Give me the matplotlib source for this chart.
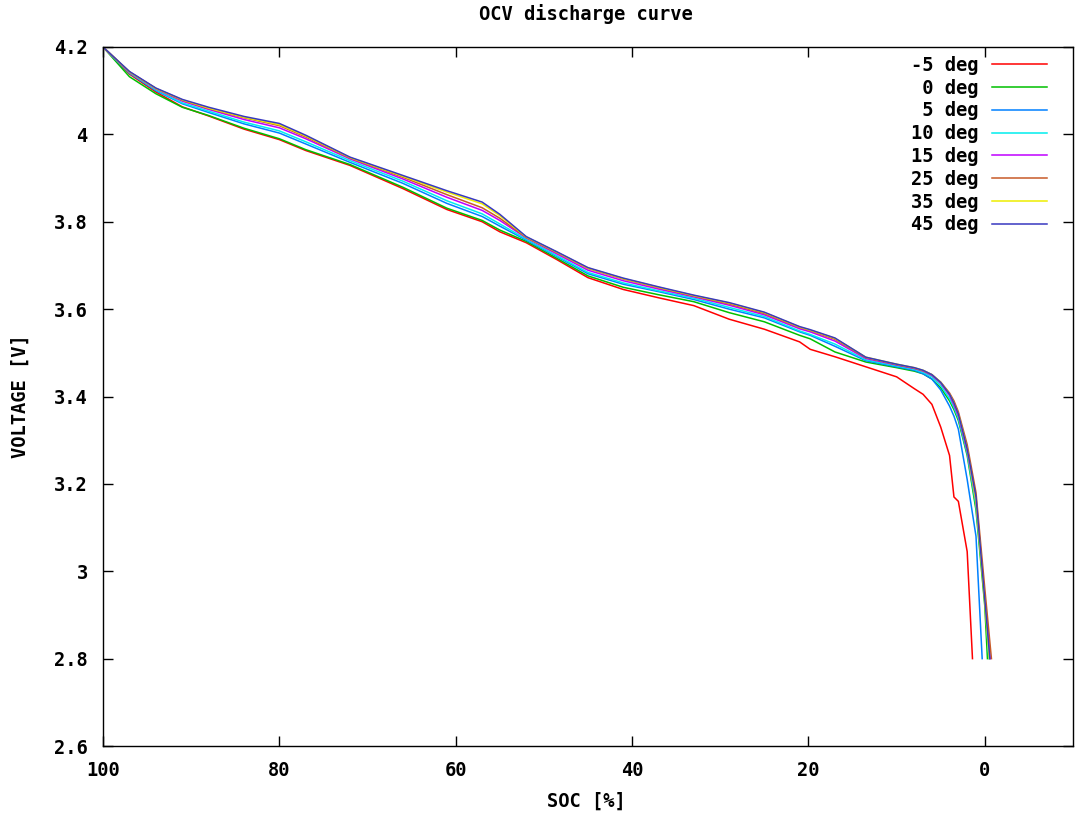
import numpy as np
import matplotlib
matplotlib.use("Agg")
import matplotlib.pyplot as plt

# -------------------------------
# Data
# -------------------------------
soc = [100, 97, 94, 91, 88, 84, 80, 77, 72, 66, 61, 57, 55, 52, 48.5, 45, 41, 37,
       33, 29, 25, 21, 19.8, 17, 13.5, 10, 8, 7, 6, 5, 4, 3.5, 3, 2, 1, 0]

labels = ["-5 deg", " 0 deg", " 5 deg", "10 deg", "15 deg", "25 deg", "35 deg", "45 deg"]
colors = ["#ff0000", "#00c000", "#0080ff", "#00eeee", "#c000ff", "#c85a28", "#eeee00", "#3838c0"]
end_soc = [1.4, -0.3, 0.3, -0.45, -0.6, -0.75, -0.5, -0.57]   # where each curve hits 2.8 V

nan = np.nan
v_m5 = [4.200, 4.138, 4.097, 4.063, 4.042, 4.012, 3.988, 3.963, 3.929, 3.876, 3.828, 3.800,
        3.777, 3.752, 3.713, 3.672, 3.645, 3.626, 3.608, 3.577, 3.554, 3.525, 3.508, 3.491,
        3.468, 3.445, 3.418, 3.405, 3.382, 3.330, 3.265, 3.170, 3.160, 3.045, nan, nan]
v_0 = [4.200, 4.132, 4.093, 4.062, 4.043, 4.014, 3.990, 3.965, 3.931, 3.879, 3.831, 3.803,
       3.781, 3.755, 3.716, 3.676, 3.650, 3.633, 3.617, 3.592, 3.571, 3.540, 3.532, 3.502,
       3.479, 3.466, 3.458, 3.452, 3.440, 3.420, 3.390, 3.370, 3.345, 3.265, 3.140, 2.920]
v_5 = [4.200, 4.140, 4.100, 4.070, 4.050, 4.024, 4.003, 3.978, 3.936, 3.888, 3.842, 3.812,
       3.790, 3.758, 3.720, 3.681, 3.657, 3.640, 3.622, 3.600, 3.580, 3.548, 3.540, 3.515,
       3.482, 3.468, 3.460, 3.452, 3.440, 3.415, 3.378, 3.355, 3.325, 3.210, 3.080, nan]
v_10 = [4.200, 4.141, 4.102, 4.072, 4.053, 4.028, 4.008, 3.983, 3.940, 3.893, 3.848, 3.818,
        3.795, 3.760, 3.722, 3.684, 3.660, 3.642, 3.625, 3.604, 3.583, 3.550, 3.542, 3.520,
        3.484, 3.470, 3.462, 3.455, 3.445, 3.425, 3.395, 3.375, 3.350, 3.270, 3.150, 2.940]
v_15 = [4.200, 4.142, 4.104, 4.076, 4.057, 4.034, 4.015, 3.990, 3.944, 3.898, 3.856, 3.826,
        3.803, 3.763, 3.726, 3.689, 3.665, 3.646, 3.628, 3.609, 3.587, 3.555, 3.548, 3.527,
        3.487, 3.472, 3.464, 3.458, 3.448, 3.430, 3.402, 3.380, 3.355, 3.275, 3.160, 2.940]
v_25 = [4.200, 4.143, 4.105, 4.078, 4.059, 4.038, 4.020, 3.994, 3.946, 3.902, 3.862, 3.832,
        3.808, 3.764, 3.729, 3.693, 3.669, 3.649, 3.630, 3.612, 3.590, 3.558, 3.551, 3.531,
        3.489, 3.473, 3.465, 3.459, 3.450, 3.433, 3.408, 3.390, 3.365, 3.290, 3.180, 2.960]
v_35 = [4.200, 4.143, 4.105, 4.079, 4.060, 4.039, 4.022, 3.996, 3.947, 3.904, 3.868, 3.841,
        3.814, 3.765, 3.730, 3.694, 3.670, 3.650, 3.631, 3.614, 3.592, 3.559, 3.552, 3.533,
        3.490, 3.474, 3.466, 3.460, 3.450, 3.432, 3.405, 3.385, 3.360, 3.280, 3.160, 2.930]
v_45 = [4.200, 4.144, 4.106, 4.080, 4.062, 4.041, 4.025, 3.998, 3.948, 3.906, 3.871, 3.845,
        3.817, 3.766, 3.731, 3.695, 3.671, 3.651, 3.632, 3.615, 3.593, 3.560, 3.553, 3.534,
        3.490, 3.474, 3.466, 3.460, 3.450, 3.432, 3.405, 3.385, 3.360, 3.280, 3.170, 2.935]

series = [v_m5, v_0, v_5, v_10, v_15, v_25, v_35, v_45]
v_cut = 2.8

xticks = [100, 80, 60, 40, 20, 0]
yticks = [2.6, 2.8, 3.0, 3.2, 3.4, 3.6, 3.8, 4.0, 4.2]
ytick_labels = ["2.6", "2.8", "3", "3.2", "3.4", "3.6", "3.8", "4", "4.2"]

# -------------------------------
# Plot
# -------------------------------
plt.rcParams["font.family"] = "DejaVu Sans Mono"
plt.rcParams["font.weight"] = "bold"
fs = 13.5

fig = plt.figure(figsize=(10.75, 8.16), dpi=100)
ax = fig.add_axes([103 / 1075, 1 - 746 / 816, 970 / 1075, 699 / 816])

for v, lab, col, e in zip(series, labels, colors, end_soc):
    x = np.array(soc, dtype=float)
    y = np.array(v, dtype=float)
    keep = (x > e) & ~np.isnan(y)
    x = np.append(x[keep], e)
    y = np.append(y[keep], v_cut)
    ax.plot(x, y, color=col, lw=1.1, label=lab)

ax.set_xlim(100, -10)
ax.set_ylim(2.6, 4.2)
ax.set_xticks(xticks)
ax.set_xticklabels([str(t) for t in xticks], fontweight="bold", fontsize=fs)
ax.set_yticks(yticks)
ax.set_yticklabels(ytick_labels, fontweight="bold", fontsize=fs)
ax.tick_params(direction="in", length=7, width=1, top=True, right=True)
ax.tick_params(axis="y", pad=11)
ax.tick_params(axis="x", pad=11)
for s in ax.spines.values():
    s.set_linewidth(1.0)

fig.text(586 / 1075, 1 - 14 / 816, "OCV discharge curve", fontsize=fs, fontweight="bold",
         ha="center", va="center")
fig.text(586 / 1075, 1 - 801 / 816, "SOC [%]", fontsize=fs, fontweight="bold",
         ha="center", va="center")
fig.text(20 / 1075, 1 - 396 / 816, "VOLTAGE [V]", fontsize=fs, fontweight="bold",
         ha="center", va="center", rotation=90)

leg = ax.legend(loc="upper right", bbox_to_anchor=((1047 - 103) / 970, 1 - 9 / 699),
                frameon=False, markerfirst=False,
                handlelength=2.95, handletextpad=0.72, labelspacing=0.2,
                borderpad=0, borderaxespad=0,
                prop={"family": "DejaVu Sans Mono", "weight": "bold", "size": fs})

fig.savefig("out.png", dpi=100)
